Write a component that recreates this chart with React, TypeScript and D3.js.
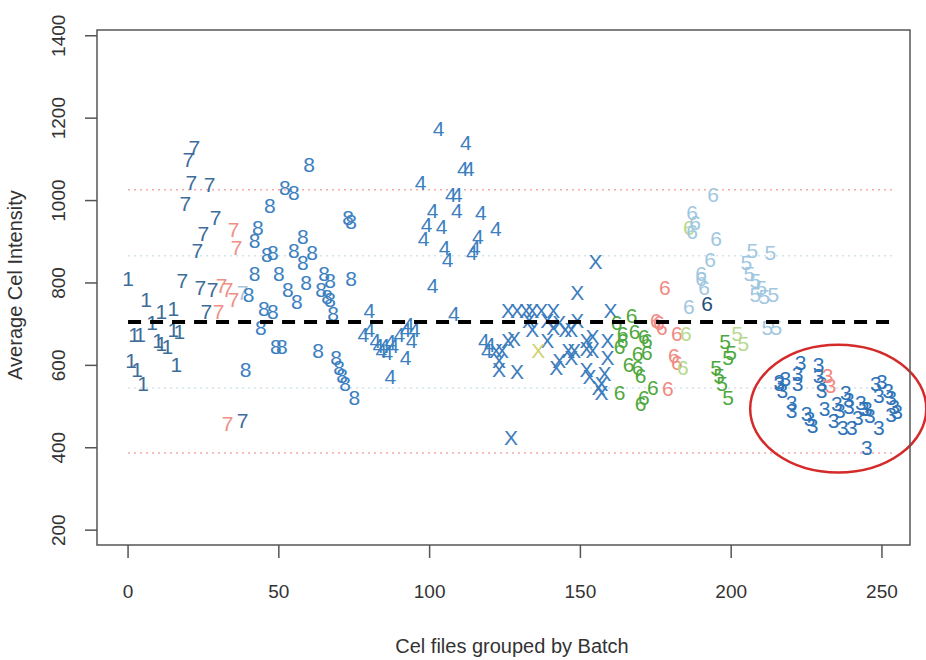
import React, { useRef, useEffect } from "react";
import * as d3 from "d3";

// [cel file index, average intensity] per batch symbol
const batch1 = [[0,812],[1,613],[2,674],[3,589],[4,676],[5,557],[6,759],[8,705],[10,661],[11,730],[11,654],[13,645],[15,739],[15,686],[16,601],[17,681]];
const batch7 = [[18,807],[19,994],[20,1099],[21,1043],[22,1130],[23,880],[24,790],[25,921],[26,730],[27,1038],[28,785],[29,958],[38,467]];
const batch7b = [[30,730],[31,795],[33,783],[33,460],[35,929],[35,759],[36,885]];
const batch7c = [[38,776]];
const batch8 = [[39,589],[40,771],[42,824],[42,904],[43,934],[44,693],[45,739],[46,868],[47,989],[48,730],[48,873],[49,645],[50,824],[51,645],[52,1031],[53,783],[55,1019],[55,880],[56,754],[58,912],[58,849],[59,802],[60,1087],[61,873],[63,637],[64,783],[65,824],[66,766],[67,807],[67,759],[68,727],[69,620],[70,596],[71,576],[72,557],[73,958],[74,812],[74,948],[75,523]];
const batch4 = [[78,674],[80,734],[80,686],[82,661],[83,649],[84,637],[85,649],[86,632],[87,657],[87,572],[88,649],[90,674],[92,686],[92,620],[93,698],[94,661],[95,686],[97,1045],[98,909],[99,941],[101,977],[101,795],[103,1176],[104,936],[105,887],[106,856],[107,1014],[108,727],[109,1014],[109,977],[111,1079],[112,1142],[113,1079],[114,873],[115,887],[116,912],[117,972],[118,661],[119,637],[120,650],[122,933]];
const batchX = [[155,851],[149,776],[126,734],[129,734],[132,734],[134,734],[137,734],[141,734],[160,734],[133,710],[139,710],[143,705],[149,710],[134,686],[145,686],[147,686],[141,693],[126,661],[128,666],[139,661],[152,661],[154,669],[159,661],[122,637],[124,637],[146,637],[148,637],[152,642],[154,637],[123,613],[143,613],[147,618],[159,620],[123,589],[129,584],[142,596],[152,589],[153,572],[158,581],[157,557],[156,547],[157,535],[127,426]];
const batchXb = [[136,637]];
const batch6 = [[162,703],[164,661],[164,678],[163,645],[167,722],[168,681],[171,669],[172,661],[169,630],[172,632],[166,601],[169,596],[170,576],[163,535],[170,508],[174,547],[171,523]];
const batch6b = [[178,790],[175,710],[176,703],[177,693],[182,678],[181,625],[182,608],[179,545]];
const batch6c = [[186,934],[185,678],[184,596]];
const batch6d = [[194,1014],[187,972],[188,946],[187,924],[195,909],[193,856],[190,824],[190,812],[191,790],[186,742]];
const batch6e = [[192,751]];
const batch5 = [[198,657],[200,632],[199,618],[195,596],[196,576],[197,557],[199,521]];
const batch5b = [[202,678],[204,654]];
const batch5c = [[207,880],[213,875],[205,849],[206,824],[208,807],[210,790],[208,771],[211,766],[214,771],[212,693],[215,691]];
const batch3 = [[216,557],[217,540],[218,567],[216,562],[223,608],[222,581],[222,557],[220,511],[220,491],[225,484],[226,472],[227,455],[229,601],[229,576],[230,557],[230,540],[231,496],[235,508],[236,491],[234,467],[238,535],[239,516],[239,499],[237,450],[243,511],[244,496],[242,474],[240,448],[248,557],[249,528],[250,560],[252,540],[253,521],[254,499],[245,496],[246,479],[249,448],[245,401],[253,481],[255,489]];
const batch3b = [[232,576],[233,552]];

const meanLine = 705;
const outerLimits = [387, 1026];
const innerLimits = [545, 866];
const xTicks = [0, 50, 100, 150, 200, 250];
const yTicks = [200, 400, 600, 800, 1000, 1200, 1400];
const outlier = { cx: 235.5, cy: 495, rx: 29.2, ry: 155 };

const groups = [
  { sym: "1", color: "#3d6c98", pts: batch1 },
  { sym: "7", color: "#3d6c98", pts: batch7 },
  { sym: "7", color: "#ef8f86", pts: batch7b },
  { sym: "7", color: "#a9c6dc", pts: batch7c },
  { sym: "8", color: "#3c80c0", pts: batch8 },
  { sym: "4", color: "#3c80c0", pts: batch4 },
  { sym: "X", color: "#3c7dbd", pts: batchX },
  { sym: "X", color: "#d2d26e", pts: batchXb },
  { sym: "6", color: "#4fa83e", pts: batch6 },
  { sym: "6", color: "#f08a82", pts: batch6b },
  { sym: "6", color: "#b6d98c", pts: batch6c },
  { sym: "6", color: "#9fc7df", pts: batch6d },
  { sym: "6", color: "#1f4f7c", pts: batch6e },
  { sym: "5", color: "#4fa83e", pts: batch5 },
  { sym: "5", color: "#b6d98c", pts: batch5b },
  { sym: "5", color: "#9fc7df", pts: batch5c },
  { sym: "3", color: "#2f74b8", pts: batch3 },
  { sym: "3", color: "#f08a82", pts: batch3b },
];

export default function App() {
  const svgRef = useRef<SVGSVGElement>(null);

  useEffect(() => {
    const width = 926;
    const height = 660;
    const left = 97, right = 910, top = 30, bottom = 545;
    const font = "'Liberation Sans', Arial, sans-serif";

    const x = d3.scaleLinear().domain([-10.3, 259.3]).range([left, right]);
    const y = d3.scaleLinear().domain([164, 1414]).range([bottom, top]);

    const svg = d3.select(svgRef.current)
      .attr("width", width)
      .attr("height", height)
      .attr("viewBox", [0, 0, width, height].join(" "));
    svg.selectAll("*").remove();

    svg.append("rect").attr("width", width).attr("height", height).attr("fill", "white");

    // limit lines
    const hline = (v: number, color: string, dash: string, w: number) =>
      svg.append("line")
        .attr("x1", x(0)).attr("x2", x(254))
        .attr("y1", y(v)).attr("y2", y(v))
        .attr("stroke", color).attr("stroke-width", w)
        .attr("stroke-dasharray", dash);
    outerLimits.forEach(v => hline(v, "#f2a9a9", "2,4", 1.5));
    innerLimits.forEach(v => hline(v, "#d3e3ec", "2,4", 1.5));

    // points drawn as batch characters
    const g = svg.append("g")
      .attr("font-family", font)
      .attr("font-size", 21)
      .attr("text-anchor", "middle");
    groups.forEach(grp => {
      g.append("g").attr("fill", grp.color)
        .selectAll("text")
        .data(grp.pts)
        .join("text")
          .attr("x", d => x(d[0]))
          .attr("y", d => y(d[1]) + 7.5)
          .text(grp.sym);
    });

    hline(meanLine, "black", "13,9", 4);

    // highlighted low-intensity batch
    svg.append("ellipse")
      .attr("cx", x(outlier.cx)).attr("cy", y(outlier.cy))
      .attr("rx", x(outlier.cx + outlier.rx) - x(outlier.cx))
      .attr("ry", y(outlier.cy) - y(outlier.cy + outlier.ry))
      .attr("fill", "none").attr("stroke", "#d42a2a").attr("stroke-width", 2.5);

    // box
    svg.append("rect")
      .attr("x", left).attr("y", top)
      .attr("width", right - left).attr("height", bottom - top)
      .attr("fill", "none").attr("stroke", "#555").attr("stroke-width", 1.5);

    // x axis
    const xa = svg.append("g").attr("font-family", font).attr("font-size", 19).attr("fill", "#333");
    xTicks.forEach(t => {
      xa.append("line").attr("x1", x(t)).attr("x2", x(t)).attr("y1", bottom).attr("y2", bottom + 13)
        .attr("stroke", "#555").attr("stroke-width", 1.5);
      xa.append("text").attr("x", x(t)).attr("y", 598).attr("text-anchor", "middle").text(t);
    });

    // y axis
    const ya = svg.append("g").attr("font-family", font).attr("font-size", 19).attr("fill", "#333");
    yTicks.forEach(t => {
      ya.append("line").attr("x1", left - 12).attr("x2", left).attr("y1", y(t)).attr("y2", y(t))
        .attr("stroke", "#555").attr("stroke-width", 1.5);
      ya.append("text")
        .attr("transform", `translate(65,${y(t)}) rotate(-90)`)
        .attr("text-anchor", "middle")
        .text(t);
    });

    svg.append("text")
      .attr("x", 512).attr("y", 653)
      .attr("text-anchor", "middle")
      .attr("font-family", font).attr("font-size", 20).attr("fill", "#333")
      .text("Cel files grouped by Batch");

    svg.append("text")
      .attr("transform", "translate(22,285) rotate(-90)")
      .attr("text-anchor", "middle")
      .attr("font-family", font).attr("font-size", 20).attr("fill", "#333")
      .text("Average Cel Intensity");
  }, []);

  return (
    <svg ref={svgRef} style={{ position: "absolute", left: 0, top: 0 }}></svg>
  );
}
